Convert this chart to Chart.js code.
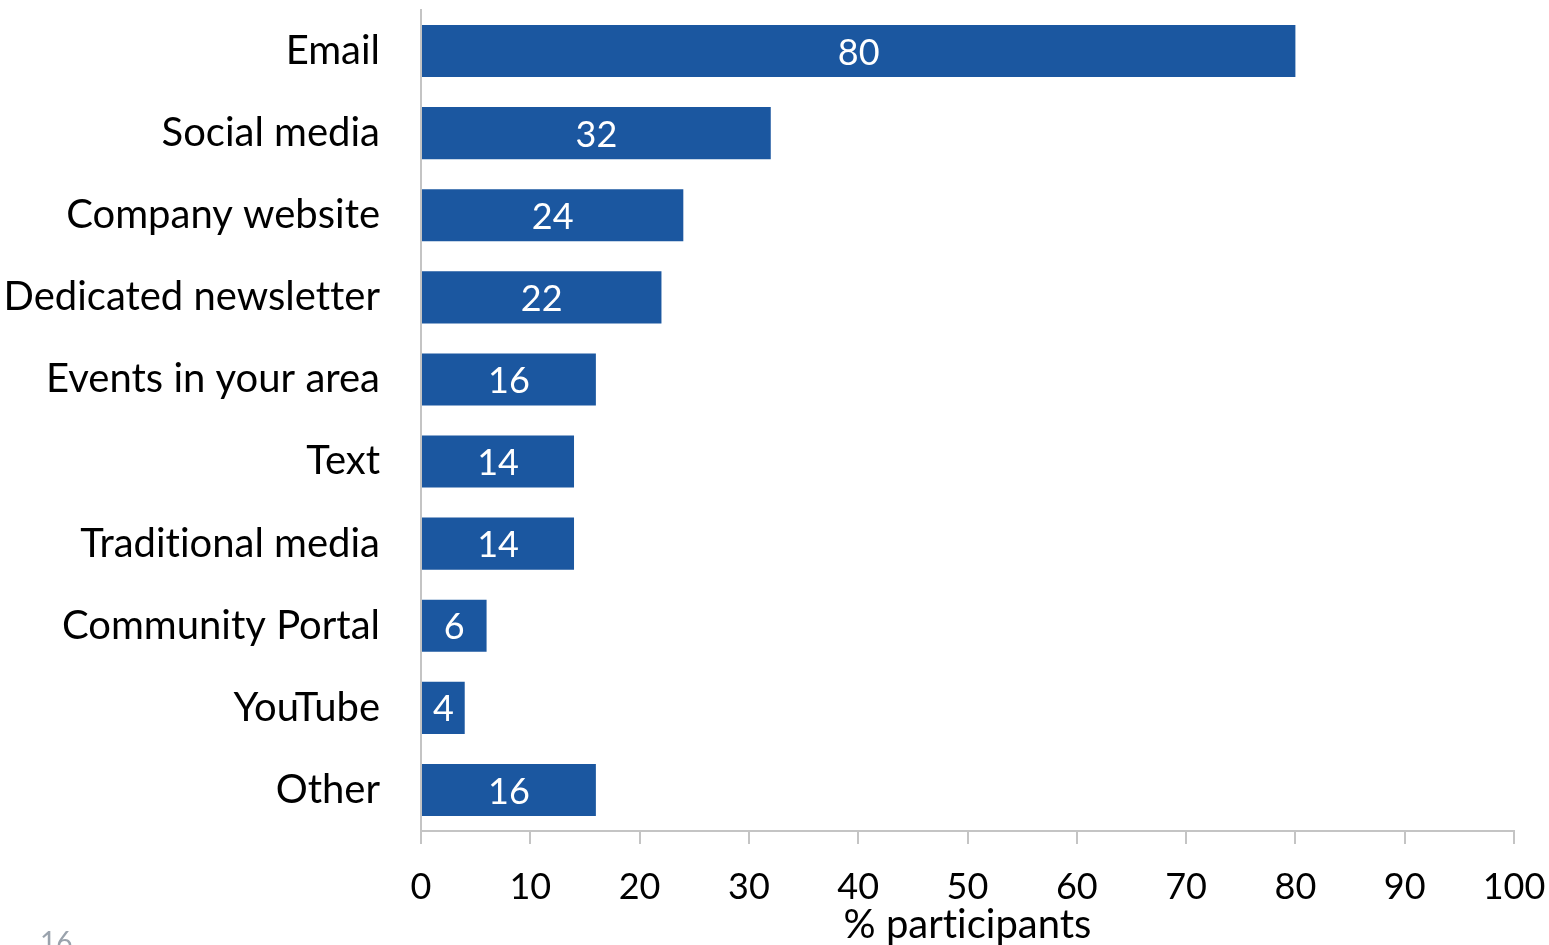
<!DOCTYPE html>
<html>
<head>
<meta charset="utf-8">
<script src="https://cdn.jsdelivr.net/npm/chart.js@4.4.1/dist/chart.umd.min.js"></script>
<style>
  html, body { margin: 0; padding: 0; background: #fff; }
  #wrap { width: 1549px; height: 945px; position: relative; }
</style>
</head>
<body>
<div id="wrap"><canvas id="channelsChart"></canvas></div>
<script>
// Chart data
const channels = ['Email', 'Social media', 'Company website', 'Dedicated newsletter', 'Events in your area',
  'Text', 'Traditional media', 'Community Portal', 'YouTube', 'Other'];
const participantPct = [80, 32, 24, 22, 16, 14, 14, 6, 4, 16];
const xTicks = [0, 10, 20, 30, 40, 50, 60, 70, 80, 90, 100];

const FONT = 'Lato, "Open Sans", sans-serif';
const barColor = '#1b57a0';
const axisColor = '#c4c4c4';

// Keep Lato from joining "ti" into a ligature
const noLigatures = {
  id: 'noLigatures',
  beforeDraw(chart) {
    chart.ctx.textRendering = 'optimizeSpeed';
  }
};

// Value labels drawn in the middle of each bar
const barValueLabels = {
  id: 'barValueLabels',
  afterDatasetsDraw(chart) {
    const ctx = chart.ctx;
    const meta = chart.getDatasetMeta(0);
    ctx.save();
    ctx.fillStyle = '#ffffff';
    ctx.font = '36px ' + FONT;
    ctx.textAlign = 'center';
    ctx.textBaseline = 'middle';
    meta.data.forEach((bar, i) => {
      const cx = (bar.x + bar.base) / 2;
      ctx.fillText(String(participantPct[i]), cx, bar.y + 2);
    });
    ctx.restore();
  }
};

// Slide number in the lower left corner
const slideNumber = {
  id: 'slideNumber',
  afterDraw(chart) {
    const ctx = chart.ctx;
    ctx.save();
    ctx.fillStyle = '#9aa3ad';
    ctx.font = '28px ' + FONT;
    ctx.textAlign = 'left';
    ctx.textBaseline = 'top';
    ctx.fillText('16', 40, 929);
    ctx.restore();
  }
};

const ctx = document.getElementById('channelsChart').getContext('2d');

new Chart(ctx, {
  type: 'bar',
  data: {
    labels: channels,
    datasets: [{
      data: participantPct,
      backgroundColor: barColor,
      borderWidth: 0,
      categoryPercentage: 1,
      barPercentage: 0.634
    }]
  },
  options: {
    indexAxis: 'y',
    responsive: true,
    maintainAspectRatio: false,
    animation: false,
    layout: {
      padding: { top: 10, right: 35, bottom: 0, left: 0 }
    },
    plugins: {
      legend: { display: false },
      tooltip: { enabled: false }
    },
    scales: {
      x: {
        min: 0,
        max: 100,
        // fixed axis height; drop the extra label padding at the ends
        afterFit: (scale) => {
          scale.height = 114;
          scale.paddingLeft = 0;
          scale.paddingRight = 0;
        },
        afterBuildTicks: (scale) => { scale.ticks = xTicks.map(v => ({ value: v })); },
        grid: {
          display: true,
          drawOnChartArea: false,
          drawTicks: true,
          tickLength: 13,
          color: axisColor,
          lineWidth: 2
        },
        border: { display: true, color: axisColor, width: 2 },
        ticks: {
          color: '#000',
          font: { family: FONT, size: 36 },
          padding: 22,
          maxRotation: 0
        },
        title: {
          display: true,
          text: '% participants',
          color: '#000',
          font: { family: FONT, size: 40 },
          padding: { top: 0, bottom: -4 }
        }
      },
      y: {
        afterFit: (scale) => {
          scale.width = 421;
          scale.paddingTop = 0;
          scale.paddingBottom = 0;
        },
        grid: { display: false, drawTicks: false },
        border: { display: true, color: axisColor, width: 2 },
        ticks: {
          color: '#000',
          font: { family: FONT, size: 40 },
          padding: 41
        }
      }
    }
  },
  plugins: [noLigatures, barValueLabels, slideNumber]
});
</script>
</body>
</html>
